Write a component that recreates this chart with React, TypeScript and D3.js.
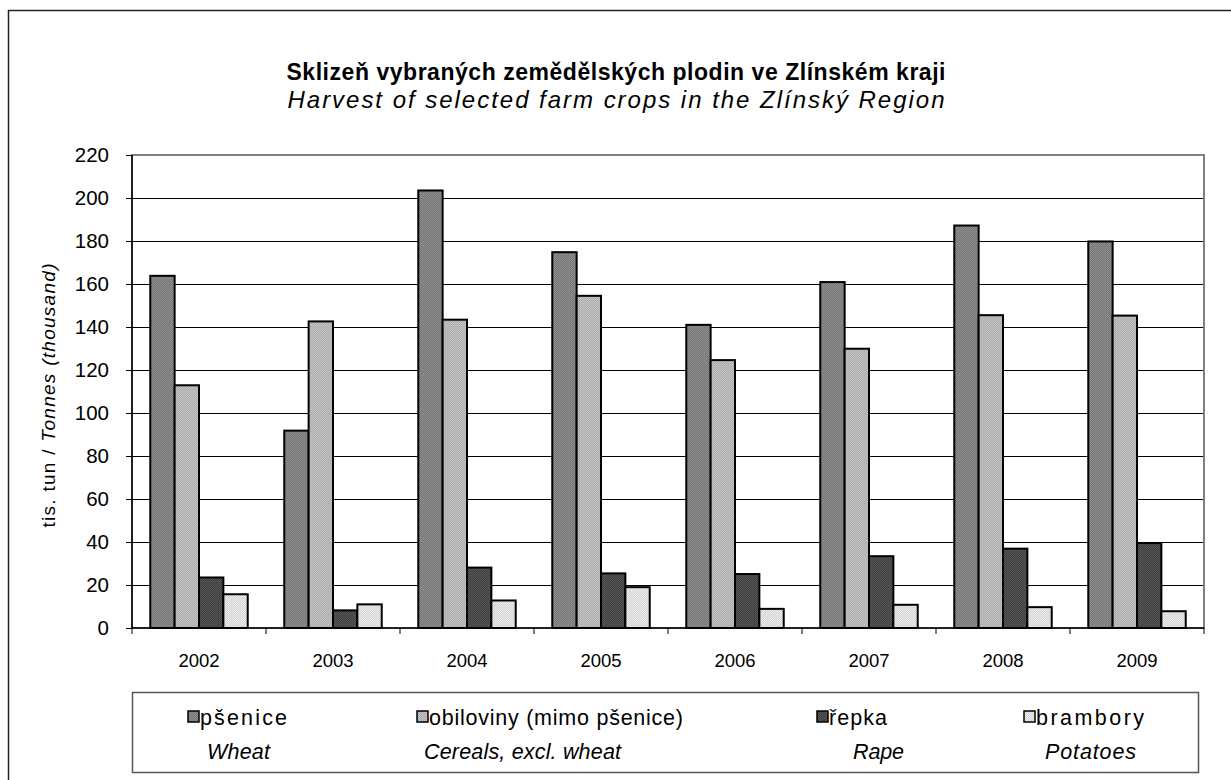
import React from "react";
import * as d3 from "d3";

const years = ["2002", "2003", "2004", "2005", "2006", "2007", "2008", "2009"];
const wheat = [163.8, 91.8, 203.5, 174.8, 141.0, 160.9, 187.2, 179.8];
const cereals = [112.9, 142.6, 143.4, 154.5, 124.6, 129.9, 145.5, 145.3];
const rape = [23.5, 8.2, 28.1, 25.4, 25.1, 33.4, 36.9, 39.5];
const potatoes = [15.7, 11.0, 12.8, 19.0, 8.9, 10.8, 9.7, 7.8];
const yTicks = [0, 20, 40, 60, 80, 100, 120, 140, 160, 180, 200, 220];

const seriesKeys = ["wheat", "cereals", "rape", "potatoes"];
const seriesValues = [wheat, cereals, rape, potatoes];
const seriesCz = ["pšenice", "obiloviny (mimo pšenice)", "řepka", "brambory"];
const seriesEn = ["Wheat", "Cereals, excl. wheat", "Rape", "Potatoes"];

const patternColors: Record<string, [string, string]> = {
  wheat: ["#767676", "#8e8e8e"],
  cereals: ["#adadad", "#c2c2c2"],
  rape: ["#3e3e3e", "#575757"],
  potatoes: ["#d2d2d2", "#ededed"],
};

const FONT = "'Liberation Sans', Arial, sans-serif";

export default function App() {
  const W = 1231;
  const H = 780;
  const left = 132;
  const right = 1204;
  const top = 155;
  const bottom = 628;

  const x0 = d3.scaleBand<string>().domain(years).range([left, right]).padding(0);
  const bw = x0.bandwidth() / 5.5;
  const x1 = d3
    .scaleBand<string>()
    .domain(seriesKeys)
    .range([0.75 * bw, 4.75 * bw])
    .padding(0);
  const y = d3.scaleLinear().domain([0, 220]).range([bottom, top]);

  // legend layout
  const legTop = 692;
  const legBottom = 772;
  const legendSquareX = [188, 417, 817, 1024];
  const legendTextX = [200, 429, 829, 1036];
  const legendTextW = [87, 254, 58, 108];
  const legendEnX = [207, 424, 853, 1045];
  const legendEnW = [63, 197, 51, 91];

  return (
    <svg
      width={W}
      height={H}
      style={{ position: "absolute", left: 0, top: 0, background: "#fff" }}
      fontFamily={FONT}
    >
      <defs>
        {seriesKeys.map((k) => (
          <pattern key={k} id={`p-${k}`} width={2} height={2} patternUnits="userSpaceOnUse">
            <rect width={2} height={2} fill={patternColors[k][0]} />
            <rect width={1} height={1} fill={patternColors[k][1]} />
            <rect x={1} y={1} width={1} height={1} fill={patternColors[k][1]} />
          </pattern>
        ))}
      </defs>
      <rect x={0} y={0} width={W} height={H} fill="#fff" />
      {/* outer frame */}
      <rect x={8.5} y={10.5} width={1240} height={800} fill="none" stroke="#222" strokeWidth={1.5} />

      {/* title */}
      <text x={616} y={80} textAnchor="middle" fontSize={23} fontWeight="bold" textLength={659} lengthAdjust="spacing">
        Sklizeň vybraných zemědělských plodin ve Zlínském kraji
      </text>
      <text x={616} y={108} textAnchor="middle" fontSize={24} fontStyle="italic" textLength={657} lengthAdjust="spacing">
        Harvest of selected farm crops in the Zlínský Region
      </text>

      {/* gridlines */}
      {yTicks
        .filter((t) => t > 0 && t < 220)
        .map((t) => (
          <line key={t} x1={left} x2={right} y1={Math.round(y(t)) + 0.5} y2={Math.round(y(t)) + 0.5} stroke="#000" strokeWidth={1} />
        ))}
      {/* plot border */}
      <rect x={left} y={top} width={right - left} height={bottom - top} fill="none" stroke="#808080" strokeWidth={2} />

      {/* bars */}
      {years.map((yr, i) => (
        <g key={yr} transform={`translate(${x0(yr)},0)`}>
          {seriesKeys.map((k, s) => {
            const v = seriesValues[s][i];
            return (
              <rect
                key={k}
                x={x1(k)}
                y={y(v)}
                width={x1.bandwidth()}
                height={bottom - y(v)}
                fill={`url(#p-${k})`}
                stroke="#000"
                strokeWidth={2}
              />
            );
          })}
        </g>
      ))}

      {/* y axis */}
      <line x1={left} x2={left} y1={top} y2={bottom} stroke="#000" strokeWidth={1.5} />
      {yTicks.map((t) => (
        <g key={t}>
          <line x1={left - 6} x2={left} y1={Math.round(y(t)) + 0.5} y2={Math.round(y(t)) + 0.5} stroke="#000" strokeWidth={1} />
          <text x={left - 23} y={y(t)} dy="0.35em" textAnchor="end" fontSize={20.5}>
            {t}
          </text>
        </g>
      ))}
      {/* x axis */}
      <line x1={left} x2={right} y1={bottom} y2={bottom} stroke="#000" strokeWidth={1.5} />
      {years.map((yr) => (
        <line key={yr} x1={x0(yr)!} x2={x0(yr)!} y1={bottom} y2={bottom + 6} stroke="#000" strokeWidth={1} />
      ))}
      <line x1={right} x2={right} y1={bottom} y2={bottom + 6} stroke="#000" strokeWidth={1} />
      {years.map((yr) => (
        <text key={yr} x={x0(yr)! + x0.bandwidth() / 2} y={667} textAnchor="middle" fontSize={18.5}>
          {yr}
        </text>
      ))}

      {/* y axis title */}
      <text transform={`translate(55,${(top + bottom) / 2 + 4}) rotate(-90)`} textAnchor="middle" fontSize={19} textLength={264} lengthAdjust="spacing">
        <tspan>tis. tun / </tspan>
        <tspan fontStyle="italic">Tonnes (thousand)</tspan>
      </text>

      {/* legend */}
      <rect x={left + 0.5} y={legTop + 0.5} width={1198 - left} height={legBottom - legTop} fill="#fff" stroke="#555" strokeWidth={1.5} />
      {seriesKeys.map((k, s) => (
        <g key={k}>
          <rect x={legendSquareX[s]} y={711} width={11} height={11} fill={`url(#p-${k})`} stroke="#000" strokeWidth={1.5} />
          <text x={legendTextX[s]} y={725} fontSize={21.5} textLength={legendTextW[s]} lengthAdjust="spacing">
            {seriesCz[s]}
          </text>
          <text x={legendEnX[s]} y={759} fontSize={21.5} fontStyle="italic" textLength={legendEnW[s]} lengthAdjust="spacing">
            {seriesEn[s]}
          </text>
        </g>
      ))}
    </svg>
  );
}
